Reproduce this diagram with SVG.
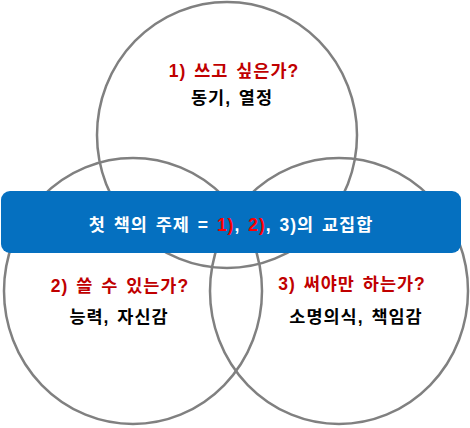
<svg xmlns="http://www.w3.org/2000/svg" width="470" height="428" viewBox="0 0 470 428">
<style>
.c{fill:none;stroke:#808080;stroke-width:2.5}
.t{font-family:"Liberation Sans","Noto Sans CJK KR",sans-serif;font-weight:bold;font-size:17.5px;letter-spacing:1px;word-spacing:2px;text-anchor:middle}
.q{fill:#C00000}
.a{fill:#000000}
.w{fill:#FFFFFF}
.r{fill:#FF0000}
</style>
<g id="circle-top"><ellipse class="c" cx="227" cy="135" rx="130" ry="133"/>
<text class="t q" x="234" y="77">1) 쓰고 싶은가?</text>
<text class="t a" x="232" y="104">동기, 열정</text></g>
<g id="circle-left"><ellipse class="c" cx="133" cy="291" rx="129" ry="133"/>
<text class="t q" x="120" y="292">2) 쓸 수 있는가?</text>
<text class="t a" x="119" y="323">능력, 자신감</text></g>
<g id="circle-right"><ellipse class="c" cx="339" cy="291" rx="129" ry="133"/>
<text class="t q" x="352" y="290">3) 써야만 하는가?</text>
<text class="t a" x="356" y="323">소명의식, 책임감</text></g>
<g id="connectors"/>
<g id="banner"><rect x="1" y="191" width="460" height="62" rx="9" fill="#0570C0"/>
<text class="t w" x="231" y="231">첫 책의 주제 = <tspan class="r">1)</tspan>, <tspan class="r">2)</tspan>, 3)의 교집합</text></g>
</svg>
